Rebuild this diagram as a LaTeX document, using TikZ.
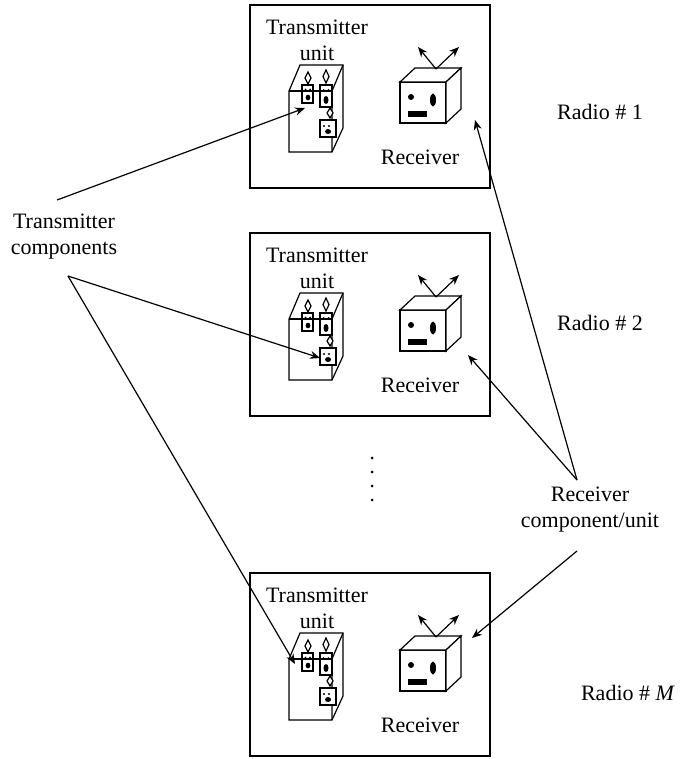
\documentclass[tikz,border=0pt]{standalone}
\usepackage{fontspec}
\setmainfont{Liberation Serif}
\usetikzlibrary{arrows.meta}

\begin{document}
\begin{tikzpicture}[x=0.5pt,y=-0.5pt,>={Stealth[length=5pt,width=4pt]},
  font=\fontsize{11}{13}\selectfont,every node/.style={text centered,align=center},
  frame/.style={draw,line width=0.8pt},
  part/.style={draw,fill=white,line width=0.6pt},
  lead/.style={->,line width=0.6pt}]

\useasboundingbox (0,0) rectangle (690,759);

\foreach \n/\y in {1/0, 2/228, 3/568} {
\begin{scope}[shift={(0,\y)}]
\path [frame] (250,5) rectangle (490,188);
\node (tu\n) at (317,40) {Transmitter\\unit};
\node (rl\n) at (420,157) {Receiver};

% transmitter cabinet
\path [part] (289,91) -- (300,65) -- (343,65) -- (343,128) -- (332,152) -- (289,152) -- cycle;
\draw [line width=0.6pt] (332,91) -- (343,65) (332,91) -- (332,152);
\path [part] (308,72) -- (311,78) -- (308,84) -- (305,78) -- cycle;
\path [part] (326,70) -- (329,76.5) -- (326,83) -- (323,76.5) -- cycle;
\path [part] (330,108) -- (333,113) -- (330,118) -- (327,113) -- cycle;
\path [part] (302,85) rectangle (313,103);
\path [part] (320,85) rectangle (332,107);
\path [part] (320,120) rectangle (336,137);
\draw [line width=0.6pt] (289,91) -- (332,91);
\fill (305.5,89.5) circle (1) (310,89.5) circle (1) (308,97.5) ellipse (2.4 and 2.8);
\fill (323.5,90) circle (1) (328.5,90) circle (1) (326,100) ellipse (2.5 and 4);
\fill (324,126) circle (1.1) (329,126) circle (1.1) (328,131.5) ellipse (3 and 2.5);

% receiver cube
\path [part] (400,82) rectangle (446,123);
\path [part] (400,82) -- (415,68) -- (461,68) -- (446,82) -- cycle;
\path [part] (446,82) -- (461,68) -- (461,109) -- (446,123) -- cycle;
\fill (411,97) circle (3) (433,100) ellipse (3 and 6.5);
\fill (408,111) rectangle (427,117);
\coordinate (ant\n) at (436,69);
\draw [lead] (ant\n) -- (418,47);
\draw [lead] (ant\n) -- (459,47);
\end{scope}
}

\node (r1) at (600,112) {Radio \# 1};
\node (r2) at (600,323) {Radio \# 2};
\node (rM) at (628,693) {Radio \# \textit{M}};

\foreach \i in {0,1,2,3}
  \fill (372,458+14*\i) circle (1.5);

\node (tc) at (64,237) {Transmitter\\components};
\coordinate (tcN) at (57,200);
\coordinate (tcS) at (68,276);
\coordinate (cab1) at (305,108);
\coordinate (cell2) at (320,358);
\coordinate (cab3) at (295,664);
\draw [lead] (tcN) -- (cab1);
\draw [lead] (tcS) -- (cell2);
\draw [lead] (tcS) -- (cab3);

\node (rc) at (590,510) {Receiver\\component/unit};
\coordinate (rcN) at (577,480);
\coordinate (rcS) at (577,551);
\coordinate (rx1) at (475,120);
\coordinate (rx2) at (468,355);
\coordinate (rx3) at (472,638);
\draw [lead] (rcN) -- (rx1);
\draw [lead] (rcN) -- (rx2);
\draw [lead] (rcS) -- (rx3);

\end{tikzpicture}
\end{document}
